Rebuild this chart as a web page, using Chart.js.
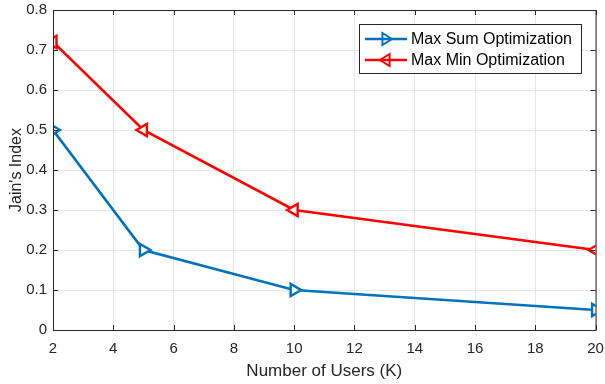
<!DOCTYPE html>
<html>
<head>
<meta charset="utf-8">
<script src="https://cdn.jsdelivr.net/npm/chart.js@4"></script>
<style>
  html, body { margin: 0; padding: 0; background: #fff; }
  #wrap { width: 605px; height: 384px; }
</style>
</head>
<body>
<div id="wrap"><canvas id="c" width="605" height="384"></canvas></div>
<script>
// data
const users = [2, 5, 10, 20];
const maxSum = [0.5, 0.2, 0.1, 0.05];
const maxMin = [0.72, 0.5, 0.3, 0.2];
const seriesNames = ['Max Sum Optimization', 'Max Min Optimization'];

const FONT = 'Liberation Sans, Arial, Helvetica, sans-serif';

function pts(xs, ys) {
  return xs.map((x, i) => ({ x: x, y: ys[i] }));
}

// box around the axes, inward ticks + legend box inside the plot, matlab style
const boxPlugin = {
  id: 'box',
  afterDatasetsDraw(chart) {
    const { ctx, chartArea: a, scales } = chart;
    ctx.save();
    ctx.strokeStyle = '#262626';
    ctx.lineWidth = 1;
    ctx.strokeRect(a.left + 0.5, a.top + 0.5, a.right - a.left, a.bottom - a.top);

    // inward tick marks
    const t = 5;
    ctx.beginPath();
    scales.x.ticks.forEach(tk => {
      const x = Math.round(scales.x.getPixelForValue(tk.value)) + 0.5;
      ctx.moveTo(x, a.bottom); ctx.lineTo(x, a.bottom - t);
      ctx.moveTo(x, a.top); ctx.lineTo(x, a.top + t);
    });
    scales.y.ticks.forEach(tk => {
      const y = Math.round(scales.y.getPixelForValue(tk.value)) + 0.5;
      ctx.moveTo(a.left, y); ctx.lineTo(a.left + t, y);
      ctx.moveTo(a.right, y); ctx.lineTo(a.right - t, y);
    });
    ctx.stroke();

    // legend
    const lx = 359, ly = 24, lw = 222, lh = 49;
    ctx.fillStyle = '#fff';
    ctx.fillRect(lx, ly, lw, lh);
    ctx.strokeStyle = '#262626';
    ctx.strokeRect(lx + 0.5, ly + 0.5, lw, lh);
    ctx.font = '16px ' + FONT;
    ctx.textBaseline = 'middle';
    chart.data.datasets.forEach((ds, i) => {
      const y = ly + 15 + i * 21;
      ctx.strokeStyle = ds.borderColor;
      ctx.lineWidth = 2.5;
      ctx.beginPath();
      ctx.moveTo(lx + 6, y);
      ctx.lineTo(lx + 48, y);
      ctx.stroke();
      // marker
      const cx = lx + 27, r = 6;
      const dir = i === 0 ? 1 : -1;
      ctx.lineWidth = 2;
      ctx.beginPath();
      ctx.moveTo(cx + dir * r, y);
      ctx.lineTo(cx - dir * r * 0.6, y - r);
      ctx.lineTo(cx - dir * r * 0.6, y + r);
      ctx.closePath();
      ctx.stroke();
      ctx.fillStyle = '#000';
      ctx.fillText(ds.label, lx + 52, y + 1);
    });
    ctx.restore();
  }
};

new Chart(document.getElementById('c'), {
  type: 'line',
  data: {
    datasets: [
      {
        label: seriesNames[0],
        data: pts(users, maxSum),
        borderColor: 'rgb(0, 114, 189)',
        backgroundColor: '#fff',
        borderWidth: 2.6,
        pointStyle: 'triangle',
        rotation: 90,
        pointRadius: 7,
        pointBorderWidth: 2.4,
        tension: 0
      },
      {
        label: seriesNames[1],
        data: pts(users, maxMin),
        borderColor: 'rgb(255, 0, 0)',
        backgroundColor: '#fff',
        borderWidth: 2.6,
        pointStyle: 'triangle',
        rotation: -90,
        pointRadius: 7,
        pointBorderWidth: 2.4,
        tension: 0
      }
    ]
  },
  options: {
    responsive: false,
    animation: false,
    layout: { padding: { top: 10, right: 9, left: 0, bottom: 0 } },
    plugins: {
      legend: { display: false },
      tooltip: { enabled: false }
    },
    scales: {
      x: {
        type: 'linear',
        min: 2,
        max: 20,
        ticks: { stepSize: 2, color: '#262626', font: { family: FONT, size: 15 }, padding: 10 },
        grid: { color: '#e6e6e6', drawTicks: false },
        border: { color: '#262626' },
        title: { display: true, text: 'Number of Users (K)', color: '#262626', font: { family: FONT, size: 17 }, padding: { top: 2, bottom: 2 } },
        afterFit(s) { s.height = 54; s.paddingLeft = 0; s.paddingRight = 0; }
      },
      y: {
        min: 0,
        max: 0.8,
        ticks: { stepSize: 0.1, color: '#262626', font: { family: FONT, size: 15 }, padding: 6,
          callback: v => Math.round(v * 10) / 10 },
        grid: { color: '#e6e6e6', drawTicks: false },
        border: { color: '#262626' },
        title: { display: true, text: "Jain's Index", color: '#262626', font: { family: FONT, size: 16 }, padding: { top: 7, bottom: 0 } },
        afterFit(s) { s.width = 53; s.paddingTop = 0; s.paddingBottom = 0; }
      }
    }
  },
  plugins: [boxPlugin]
});
</script>
</body>
</html>
